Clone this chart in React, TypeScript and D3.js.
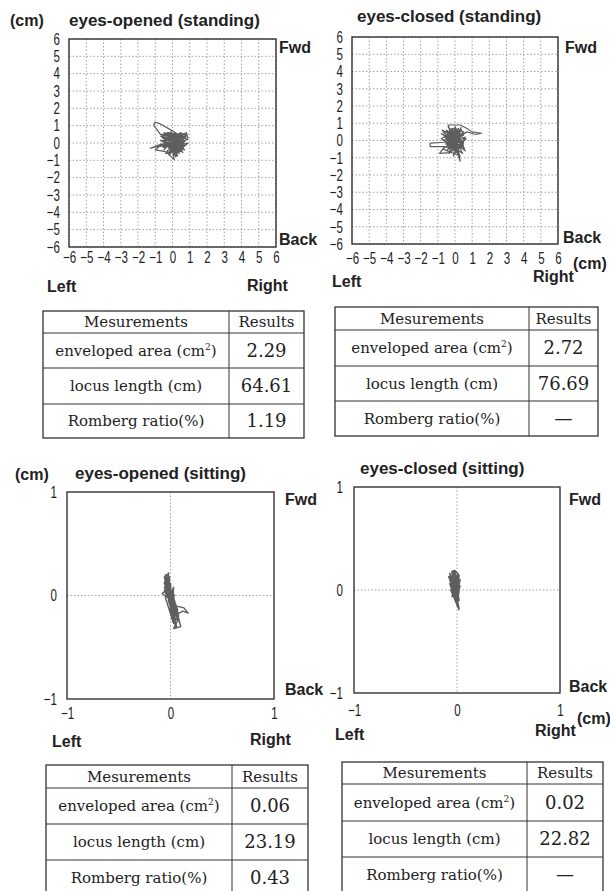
import { useEffect, useRef } from 'react'
import * as d3 from 'd3'

// sway traces: [left(-)/right(+), back(-)/fwd(+)] in cm
const eoStanding: [number, number][] = [
  [0.1, 0.2], [-0.4, 0.5], [0.3, -0.3], [-0.6, -0.1], [0.5, 0.4], [-0.2, -0.6], [0.7, 0.1], [-0.5, 0.3],
  [0.2, -0.8], [0.6, 0.5], [-0.7, 0.5], [-1.1, 1.05], [-1.0, 1.2], [-0.7, 1.1], [0.0, 0.7], [0.3, 0.5],
  [-0.3, 0.6], [0.4, 0.2], [-0.4, -0.1], [-1.3, -0.3], [-0.6, -0.05], [-1.0, -0.4], [-0.4, -0.5], [0.1, -0.95],
  [0.0, -0.4], [0.5, -0.5], [0.3, 0.3], [0.8, 0.6], [0.9, 0.3], [0.5, -0.1], [0.9, 0.0], [0.2, -0.6],
  [-0.3, 0.0], [0.4, 0.5], [-0.5, -0.4], [0.1, 0.6], [0.6, -0.3], [-0.4, 0.2], [0.3, -0.1], [-0.7, 0.4],
  [0.0, 0.1], [-0.2, -0.7], [0.6, 0.2], [-0.5, 0.6], [0.2, 0.0], [0.7, -0.2], [-0.1, 0.4], [0.4, -0.6],
  [-0.6, 0.1], [0.5, 0.6], [0.0, -0.2], [-0.3, 0.3], [0.3, -0.5], [0.7, 0.4], [-0.2, 0.1],
  [-0.6, 0.3], [0.8, -0.1], [-0.4, -0.6], [0.6, 0.55], [-0.7, -0.2], [0.9, 0.2], [-0.2, 0.55], [0.3, -0.75],
  [-0.5, 0.0], [0.7, -0.4], [-0.1, 0.65], [0.2, -0.3], [-0.6, 0.45], [0.8, 0.35], [-0.3, -0.45], [0.5, 0.1],
  [-0.7, 0.15], [0.4, -0.25], [0.0, 0.5], [0.6, -0.55], [-0.45, 0.35], [0.85, 0.5], [-0.15, -0.35], [0.35, 0.45],
  [-0.55, -0.25], [0.65, 0.0], [-0.25, 0.6], [0.15, -0.55], [0.75, 0.15], [-0.35, -0.2],
]

const ecStanding: [number, number][] = [
  [0.0, 0.1], [-0.5, 0.6], [0.4, -0.2], [-0.3, -0.5], [0.2, 0.7], [-0.6, 0.2], [0.5, 0.3], [-0.4, -0.1],
  [0.1, -0.7], [-0.4, 0.9], [0.3, 0.9], [0.7, 0.7], [1.0, 0.5], [1.55, 0.42], [1.2, 0.35], [0.7, 0.5],
  [0.2, 0.2], [-0.6, -0.1], [-1.45, -0.15], [-1.45, -0.35], [-0.6, -0.35], [-0.9, -0.75], [-0.3, -0.7], [0.0, -0.3],
  [0.3, -1.2], [0.2, -0.5], [0.5, -0.1], [-0.2, 0.4], [0.4, 0.6], [-0.7, 0.5], [0.1, -0.2], [-0.4, 0.8],
  [0.3, 0.0], [-0.5, -0.4], [0.6, 0.2], [-0.1, -0.9], [0.2, 0.5], [-0.6, 0.3], [0.4, -0.4], [-0.2, 0.1],
  [0.0, 0.8], [0.5, -0.3], [-0.4, 0.3], [0.2, -0.8], [-0.1, 0.5], [0.4, 0.3], [-0.7, 0.0], [0.1, 0.3],
  [-0.3, -0.3], [0.3, 0.6], [-0.5, 0.1], [0.0, 0.0],
  [-0.8, 0.4], [0.6, -0.6], [-0.2, 0.7], [0.5, 0.5], [-0.7, -0.5], [0.3, -0.9], [-0.5, 0.55], [0.65, 0.1],
  [-0.35, -0.75], [0.1, 0.65], [-0.8, 0.1], [0.45, -0.75], [-0.1, 0.25], [0.6, 0.45], [-0.55, -0.2], [0.2, -0.4],
  [-0.3, 0.5], [0.55, -0.45], [-0.65, 0.3], [0.05, -0.6], [0.35, 0.75], [-0.45, -0.55], [0.25, 0.1], [-0.75, 0.6],
  [0.5, -0.15], [-0.15, -0.45], [0.4, 0.35], [-0.6, 0.0], [0.15, 0.45], [0.0, -0.1],
]

const eoSitting: [number, number][] = [
  [0.0, 0.0], [-0.03, 0.15], [0.01, -0.1], [-0.04, 0.1], [0.03, -0.2], [-0.02, 0.05], [0.02, -0.25], [-0.05, 0.2],
  [0.04, -0.05], [0.0, -0.15], [-0.02, 0.22], [-0.06, 0.12], [0.02, -0.12], [-0.02, 0.0], [0.05, -0.28], [0.08, -0.22],
  [0.03, -0.32], [0.1, -0.3], [0.06, -0.18], [0.12, -0.15], [0.17, -0.17], [0.13, -0.12], [0.05, -0.1], [-0.04, 0.05],
  [-0.08, 0.02], [-0.03, -0.02], [-0.01, 0.18], [-0.02, -0.05], [0.03, 0.08], [0.01, -0.22], [0.04, -0.25], [-0.02, 0.1],
  [0.02, 0.02], [0.02, -0.18], [-0.05, 0.15], [0.03, -0.08], [0.0, 0.05],
  [-0.06, 0.18], [0.06, -0.3], [-0.02, -0.05], [0.04, 0.0], [-0.06, 0.08], [0.08, -0.2], [-0.04, 0.2], [0.03, -0.27],
  [-0.05, -0.02], [0.0, 0.12], [0.02, -0.2], [0.07, -0.24], [-0.05, 0.16], [0.03, -0.08], [-0.06, 0.05], [0.09, -0.26],
  [-0.02, 0.1], [0.01, -0.14], [0.03, 0.02], [0.05, -0.31], [-0.05, 0.12], [0.07, -0.14], [-0.03, 0.14], [0.04, -0.22],
]

const ecSitting: [number, number][] = [
  [0.0, 0.0], [-0.04, 0.15], [0.01, -0.05], [-0.06, 0.1], [0.02, 0.12], [-0.03, -0.05], [-0.035, 0.19], [0.0, 0.08],
  [-0.08, 0.13], [0.01, -0.12], [-0.02, 0.05], [0.02, -0.19], [-0.01, -0.08], [0.03, 0.1], [-0.05, 0.02], [0.01, 0.16],
  [-0.02, -0.1], [0.03, 0.04], [-0.04, 0.08], [0.0, -0.15], [0.02, 0.0], [-0.03, 0.12], [0.0, 0.02],
  [-0.07, 0.16], [0.01, -0.16], [-0.05, 0.18], [0.02, 0.05], [-0.07, 0.06], [0.0, -0.12], [-0.02, 0.19], [0.02, 0.14],
  [-0.06, 0.0], [0.015, -0.18], [-0.04, 0.12], [0.01, 0.02], [-0.05, -0.06], [0.02, -0.1], [-0.03, 0.17], [0.02, 0.09],
  [-0.06, 0.11], [0.0, -0.05],
]

const standingTicks = [-6, -5, -4, -3, -2, -1, 0, 1, 2, 3, 4, 5, 6]
const sittingTicks = [-1, 0, 1]
const sittingGrid = [0]

const measurements = ['enveloped area (cm²)', 'locus length (cm)', 'Romberg ratio(%)']
const resultsEoStanding = ['2.29', '64.61', '1.19']
const resultsEcStanding = ['2.72', '76.69', '—']
const resultsEoSitting = ['0.06', '23.19', '0.43']
const resultsEcSitting = ['0.02', '22.82', '—']

const BOLD = '"Liberation Sans", Arial, sans-serif'
const SERIF = '"DejaVu Serif", serif'

type Lbl = { text: string; x: number; y: number; size?: number }
type PlotCfg = {
  trace: [number, number][]
  domain: [number, number]
  ticks: number[]
  grid: number[]
  box: { x0: number; x1: number; y0: number; y1: number }
  tickBase: number
  yTickGap: number
  lineW: number
  labels: Lbl[]
}

const plots: PlotCfg[] = [
  {
    trace: eoStanding, domain: [-6, 6], ticks: standingTicks, grid: standingTicks,
    box: { x0: 69, x1: 276, y0: 39, y1: 247 }, tickBase: 263, yTickGap: 9, lineW: 1.2,
    labels: [
      { text: '(cm)', x: 10, y: 26 }, { text: 'eyes-opened (standing)', x: 69, y: 26, size: 17 },
      { text: 'Fwd', x: 279, y: 53 }, { text: 'Back', x: 279, y: 245 },
      { text: 'Left', x: 47, y: 292 }, { text: 'Right', x: 247, y: 291 },
    ],
  },
  {
    trace: ecStanding, domain: [-6, 6], ticks: standingTicks, grid: standingTicks,
    box: { x0: 352, x1: 558, y0: 37, y1: 244 }, tickBase: 264, yTickGap: 9, lineW: 1.2,
    labels: [
      { text: 'eyes-closed (standing)', x: 357, y: 22, size: 17 },
      { text: 'Fwd', x: 565, y: 53 }, { text: 'Back', x: 563, y: 243 }, { text: '(cm)', x: 573, y: 269 },
      { text: 'Left', x: 332, y: 287 }, { text: 'Right', x: 533, y: 282 },
    ],
  },
  {
    trace: eoSitting, domain: [-1, 1], ticks: sittingTicks, grid: sittingGrid,
    box: { x0: 67, x1: 274, y0: 492, y1: 699 }, tickBase: 719, yTickGap: 10, lineW: 1.4,
    labels: [
      { text: '(cm)', x: 15, y: 480 }, { text: 'eyes-opened (sitting)', x: 75, y: 479, size: 17 },
      { text: 'Fwd', x: 285, y: 505 }, { text: 'Back', x: 285, y: 695 },
      { text: 'Left', x: 52, y: 747 }, { text: 'Right', x: 250, y: 745 },
    ],
  },
  {
    trace: ecSitting, domain: [-1, 1], ticks: sittingTicks, grid: sittingGrid,
    box: { x0: 354, x1: 560, y0: 487, y1: 693 }, tickBase: 716, yTickGap: 11, lineW: 1.6,
    labels: [
      { text: 'eyes-closed (sitting)', x: 360, y: 474, size: 17 },
      { text: 'Fwd', x: 569, y: 505 }, { text: 'Back', x: 569, y: 692 }, { text: '(cm)', x: 577, y: 724 },
      { text: 'Left', x: 335, y: 740 }, { text: 'Right', x: 535, y: 736 },
    ],
  },
]

function SwayPlot({ cfg }: { cfg: PlotCfg }) {
  const ref = useRef<SVGGElement>(null)

  useEffect(() => {
    if (!ref.current) return
    const g = d3.select(ref.current)
    g.selectAll('*').remove()
    const { box } = cfg

    const x = d3.scaleLinear().domain(cfg.domain).range([box.x0, box.x1])
    const y = d3.scaleLinear().domain(cfg.domain).range([box.y1, box.y0])

    // dotted grid
    g.selectAll('.gv').data(cfg.grid).join('line')
      .attr('x1', d => x(d)).attr('x2', d => x(d))
      .attr('y1', box.y0).attr('y2', box.y1)
      .attr('stroke', '#8a8a8a').attr('stroke-width', 0.8).attr('stroke-dasharray', '1.5,2')
    g.selectAll('.gh').data(cfg.grid).join('line')
      .attr('x1', box.x0).attr('x2', box.x1)
      .attr('y1', d => y(d)).attr('y2', d => y(d))
      .attr('stroke', '#8a8a8a').attr('stroke-width', 0.8).attr('stroke-dasharray', '1.5,2')

    // sway locus
    const line = d3.line<[number, number]>().x(d => x(d[0])).y(d => y(d[1]))
    g.append('path').datum(cfg.trace)
      .attr('d', line)
      .attr('fill', 'none')
      .attr('stroke', '#5e5e5e')
      .attr('stroke-width', cfg.lineW)
      .attr('stroke-linejoin', 'round')

    // frame
    g.append('rect')
      .attr('x', box.x0).attr('y', box.y0)
      .attr('width', box.x1 - box.x0).attr('height', box.y1 - box.y0)
      .attr('fill', 'none').attr('stroke', '#333').attr('stroke-width', 1.4)

    // axes: tick labels only
    const fmt = d3.format('d')
    const ay = g.append('g')
      .attr('transform', `translate(${box.x0 - cfg.yTickGap},0)`)
      .call(d3.axisLeft(y).tickValues(cfg.ticks).tickSize(0).tickPadding(0).tickFormat(d => fmt(d as number)))
    ay.select('.domain').remove()
    ay.selectAll('text')
      .attr('x', 0)
      .style('font-family', '"Liberation Sans", Arial, sans-serif')
      .style('font-size', '16.5px')
      .attr('fill', '#222')
      .attr('transform', 'scale(0.7,1)')

    const ax = g.append('g')
      .attr('transform', `translate(0,${cfg.tickBase})`)
      .call(d3.axisBottom(x).tickValues(cfg.ticks).tickSize(0).tickPadding(0).tickFormat(d => fmt(d as number)))
    ax.select('.domain').remove()
    ax.selectAll('text')
      .attr('y', 0).attr('dy', 0)
      .style('font-family', '"Liberation Sans", Arial, sans-serif')
      .style('font-size', '16.5px')
      .attr('fill', '#222')
      .attr('transform', 'scale(0.7,1)')
  }, [cfg])

  return (
    <g>
      <g ref={ref} />
      {cfg.labels.map((l, i) => (
        <text key={i} x={l.x} y={l.y} fontFamily={BOLD} fontWeight="bold"
          fontSize={l.size ?? 16} fill="#222">{l.text}</text>
      ))}
    </g>
  )
}

type TableCfg = { x0: number; x1: number; xc: number; rows: number[]; values: string[] }

const tables: TableCfg[] = [
  { x0: 43, x1: 304, xc: 229, rows: [311, 333, 368, 404, 438], values: resultsEoStanding },
  { x0: 335, x1: 598, xc: 529, rows: [307, 330, 366, 401, 436], values: resultsEcStanding },
  { x0: 46, x1: 308, xc: 232, rows: [765, 788, 824, 860, 896], values: resultsEoSitting },
  { x0: 342, x1: 603, xc: 527, rows: [762, 784, 821, 857, 893], values: resultsEcSitting },
]

function Label({ text, x, y }: { text: string; x: number; y: number }) {
  const i = text.indexOf('²')
  if (i < 0) {
    return <text x={x} y={y} dy="0.35em" textAnchor="middle" fontFamily={SERIF} fontSize={15} fill="#222">{text}</text>
  }
  return (
    <text x={x} y={y} dy="0.35em" textAnchor="middle" fontFamily={SERIF} fontSize={15} fill="#222">
      {text.slice(0, i)}
      <tspan fontSize={9} dy={-6}>2</tspan>
      <tspan dy={6}>{text.slice(i + 1)}</tspan>
    </text>
  )
}

function ResultTable({ cfg }: { cfg: TableCfg }) {
  const { x0, x1, xc, rows } = cfg
  const cL = (x0 + xc) / 2
  const cR = (xc + x1) / 2
  return (
    <g>
      <rect x={x0} y={rows[0]} width={x1 - x0} height={rows[4] - rows[0]} fill="none" stroke="#333" strokeWidth={1.3} />
      {rows.slice(1, 4).map((r, i) => (
        <line key={i} x1={x0} x2={x1} y1={r} y2={r} stroke="#333" strokeWidth={1} />
      ))}
      <line x1={xc} x2={xc} y1={rows[0]} y2={rows[4]} stroke="#333" strokeWidth={1} />
      <text x={cL} y={(rows[0] + rows[1]) / 2} dy="0.35em" textAnchor="middle" fontFamily={SERIF} fontSize={15} fill="#222">Mesurements</text>
      <text x={cR} y={(rows[0] + rows[1]) / 2} dy="0.35em" textAnchor="middle" fontFamily={SERIF} fontSize={15} fill="#222">Results</text>
      {measurements.map((m, i) => (
        <Label key={i} text={m} x={cL} y={(rows[i + 1] + rows[i + 2]) / 2} />
      ))}
      {cfg.values.map((v, i) => (
        <text key={i} x={cR} y={(rows[i + 1] + rows[i + 2]) / 2} dy="0.35em" textAnchor="middle"
          fontFamily={SERIF} fontSize={18} fill="#222">{v}</text>
      ))}
    </g>
  )
}

export default function App() {
  return (
    <svg width={610} height={891} viewBox="0 0 610 891"
      style={{ position: 'absolute', left: 0, top: 0, background: '#fff' }}>
      {plots.map((p, i) => <SwayPlot key={i} cfg={p} />)}
      {tables.map((t, i) => <ResultTable key={i} cfg={t} />)}
    </svg>
  )
}
